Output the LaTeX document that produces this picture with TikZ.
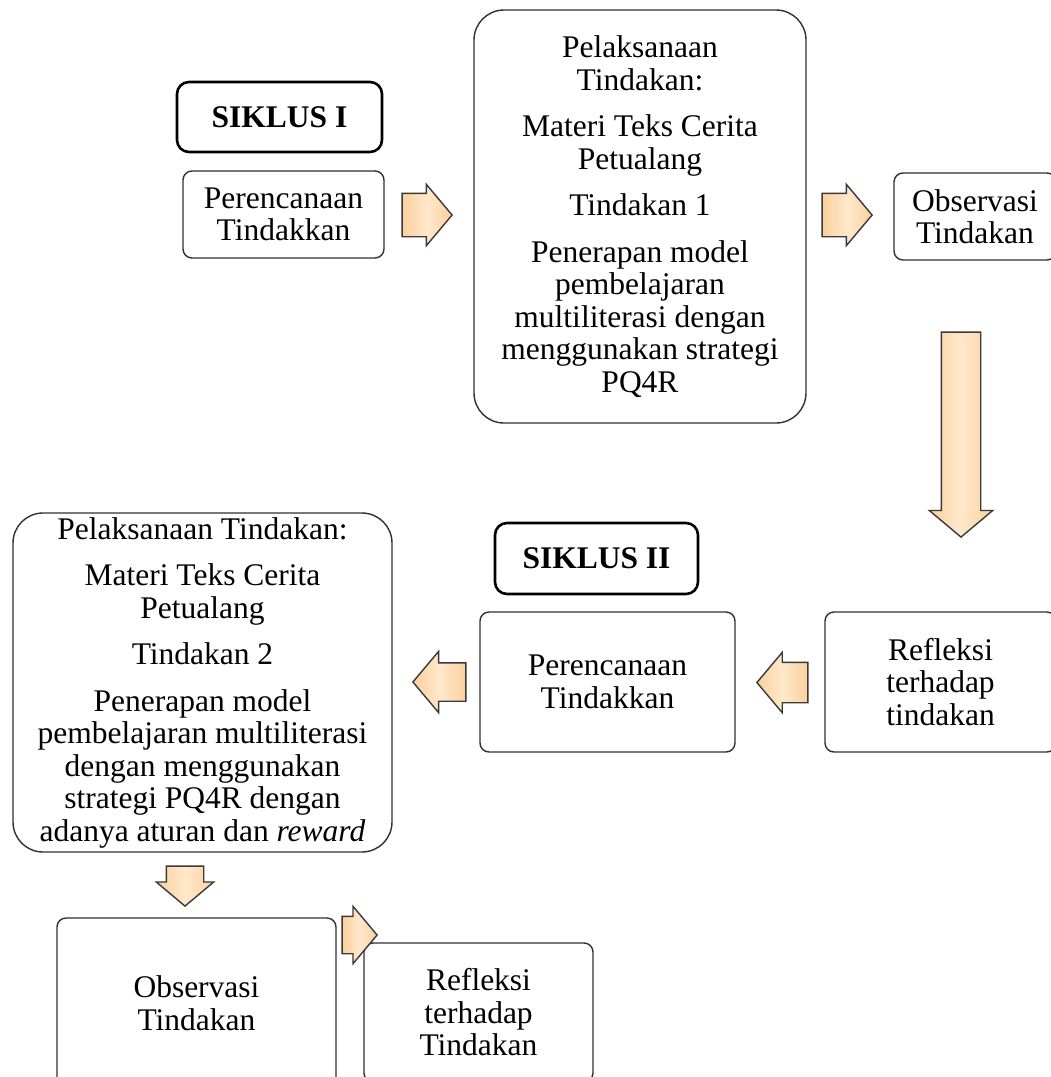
\documentclass[tikz,border=0pt]{standalone}
\usepackage{fontspec}
\setmainfont{Liberation Serif}
\usetikzlibrary{shapes.arrows}
\definecolor{arrowfill}{HTML}{FBD09C}
\definecolor{arrowlight}{HTML}{FFE8CC}
\definecolor{arrowedge}{HTML}{3A3A3A}
\definecolor{boxedge}{HTML}{303030}
\newcommand\mainfs{\fontsize{31.5pt}{32.5pt}\selectfont}
\tikzset{
  stepbox/.style={draw=boxedge, line width=1.4pt, rounded corners=9pt, inner sep=0pt, align=center, font=\mainfs},
  bigbox/.style={stepbox, rounded corners=30pt},
  titlebox/.style={draw=black, line width=2.6pt, rounded corners=12pt, inner sep=0pt, align=center, font=\mainfs\bfseries},
  blockarrow/.style={single arrow, draw=arrowedge, line width=1.4pt, left color=arrowfill, right color=arrowfill, middle color=arrowlight, inner xsep=0pt, single arrow tip angle=100, anchor=tip}
}
\begin{document}
\begin{tikzpicture}[x=1pt,y=-1pt]
\useasboundingbox (0,0) rectangle (1051,1077);
\fill[white] (0,0) rectangle (1051,1077);
\clip (0,0) rectangle (1051,1077);

% boxes
\node[titlebox, minimum width=205pt, minimum height=70pt] (t1) at (279.5,117) {SIKLUS I};
\node[stepbox, minimum width=201pt, minimum height=87pt] (p1) at (283.5,214.5) {Perencanaan\\Tindakkan};
\node[bigbox, minimum width=332pt, minimum height=413pt] (pl1) at (640,216.5)
  {Pelaksanaan\\Tindakan:\\[14pt]Materi Teks Cerita\\Petualang\\[14pt]Tindakan 1\\[14pt]Penerapan model\\pembelajaran\\multiliterasi dengan\\menggunakan strategi\\PQ4R};
\node[stepbox, minimum width=162pt, minimum height=87pt] (o1) at (975,216.5) {Observasi\\Tindakan};

\node[bigbox, minimum width=379pt, minimum height=339pt] (pl2) at (202.5,682.5)
  {Pelaksanaan Tindakan:\\[14pt]Materi Teks Cerita\\Petualang\\[14pt]Tindakan 2\\[14pt]Penerapan model\\pembelajaran multiliterasi\\dengan menggunakan\\strategi PQ4R dengan\\adanya aturan dan \textit{reward}};
\node[titlebox, minimum width=203pt, minimum height=71pt] (t2) at (596.5,558.5) {SIKLUS II};
\node[stepbox, minimum width=255pt, minimum height=140pt] (p2) at (607.5,682) {Perencanaan\\Tindakkan};
\node[stepbox, minimum width=231pt, minimum height=140pt] (r1) at (940.5,682) {Refleksi\\terhadap\\tindakan};

\node[stepbox, minimum width=279pt, minimum height=170pt] (o2) at (196.5,1003) {Observasi\\Tindakan};
\node[stepbox, minimum width=229pt, minimum height=139pt] (r2) at (478.5,1012.5) {Refleksi\\terhadap\\Tindakan};

% block arrows (placed by their tips)
\node[blockarrow, minimum height=50pt, inner ysep=21pt, single arrow head extend=9pt] (a1) at (453,215) {};
\node[blockarrow, minimum height=50pt, inner ysep=21pt, single arrow head extend=9pt] (a2) at (873,215) {};
\node[blockarrow, rotate=-90, minimum height=205pt, inner ysep=19pt, single arrow head extend=12pt] (a3) at (961,538) {};
\node[blockarrow, rotate=180, minimum height=53pt, inner ysep=18.5pt, single arrow head extend=11.5pt] (a4) at (412,682) {};
\node[blockarrow, rotate=180, minimum height=51pt, inner ysep=19.5pt, single arrow head extend=10pt] (a5) at (756,682.5) {};
\node[blockarrow, rotate=-90, minimum height=40pt, inner ysep=18pt, single arrow head extend=10pt] (a6) at (185,907) {};
\node[blockarrow, minimum height=35pt, inner ysep=18pt, single arrow head extend=10pt] (a7) at (378,935) {};
\end{tikzpicture}
\end{document}
